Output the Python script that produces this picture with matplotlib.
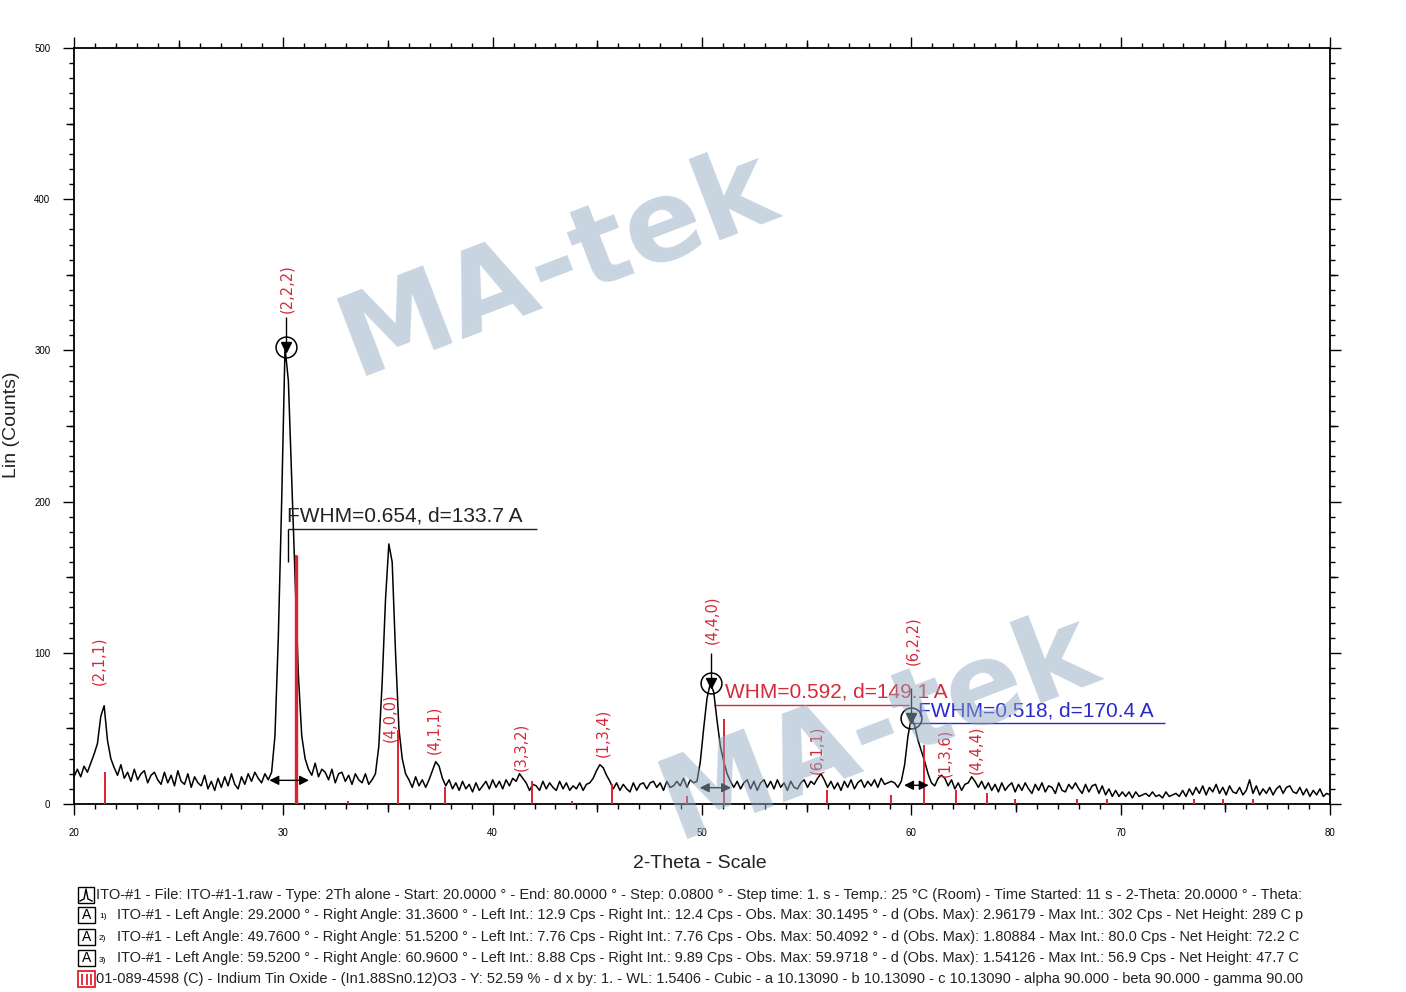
import numpy as np
import matplotlib
matplotlib.use('Agg')
import matplotlib.pyplot as plt
from matplotlib.markers import TICKDOWN, TICKUP, TICKLEFT, TICKRIGHT
from matplotlib.patches import Rectangle

plt.rcParams['font.family'] = ['Liberation Sans', 'DejaVu Sans']

# scan: start 20 deg, every second point of the 0.08 deg step scan
start_angle = 20.0
step = 0.16

counts = [
    # 20.00 - 23.84
    18, 23, 18, 25, 21, 27, 33, 40, 58, 65, 42, 30, 24, 19, 26, 17, 21, 15, 23, 16, 20, 22, 14, 19, 21,
    # 24.00 - 27.84
    16, 13, 21, 14, 19, 12, 22, 15, 13, 20, 11, 18, 14, 12, 19, 10, 15, 9, 17, 11, 18, 12, 20, 13, 10,
    # 28.00 - 31.84
    18, 13, 20, 15, 21, 17, 14, 20, 16, 21, 45, 110, 200, 302, 280, 215, 150, 85, 45, 30, 23, 19, 27, 18, 23,
    # 32.00 - 35.84
    21, 16, 23, 14, 20, 21, 15, 19, 13, 20, 16, 14, 20, 13, 16, 20, 38, 80, 135, 172, 160, 100, 50, 30, 20,
    # 36.00 - 39.84
    16, 11, 18, 12, 16, 11, 16, 22, 28, 25, 17, 12, 16, 10, 14, 9, 15, 10, 13, 8, 14, 9, 12, 15, 10,
    # 40.00 - 43.84
    16, 11, 15, 10, 16, 12, 17, 15, 20, 17, 14, 9, 13, 12, 9, 15, 10, 14, 11, 9, 15, 10, 14, 9, 12,
    # 44.00 - 47.84
    10, 14, 9, 13, 14, 17, 22, 26, 24, 19, 15, 10, 14, 9, 13, 10, 8, 14, 9, 13, 14, 10, 14, 15, 11,
    # 48.00 - 51.84
    14, 9, 15, 11, 12, 15, 12, 17, 11, 16, 14, 15, 28, 50, 70, 80, 74, 55, 38, 28, 20, 15, 11, 15, 10,
    # 52.00 - 55.84
    14, 16, 10, 15, 9, 14, 16, 11, 15, 10, 16, 11, 14, 9, 15, 11, 10, 14, 16, 11, 15, 13, 17, 20, 16,
    # 56.00 - 59.84
    11, 15, 10, 14, 9, 15, 11, 16, 10, 14, 16, 11, 15, 12, 16, 11, 17, 13, 14, 15, 14, 11, 15, 26, 45,
    # 60.00 - 63.84
    57, 52, 42, 35, 28, 20, 14, 12, 17, 19, 17, 12, 16, 10, 14, 9, 13, 14, 18, 15, 11, 15, 10, 14, 9,
    # 64.00 - 67.84
    13, 8, 14, 9, 12, 14, 8, 13, 9, 14, 10, 7, 13, 9, 14, 8, 12, 11, 7, 14, 9, 8, 13, 10, 14,
    # 68.00 - 71.84
    10, 7, 13, 8, 12, 13, 7, 12, 6, 10, 5, 9, 5, 8, 5, 8, 4, 8, 5, 6, 7, 5, 8, 5, 6,
    # 72.00 - 75.84
    4, 8, 5, 6, 7, 5, 9, 5, 10, 6, 11, 7, 12, 6, 11, 8, 13, 7, 11, 6, 12, 8, 7, 11, 6,
    # 76.00 - 80.00
    9, 16, 7, 12, 6, 10, 7, 11, 6, 10, 12, 7, 11, 12, 8, 7, 11, 6, 10, 5, 9, 6, 10, 5, 7, 6,
]
two_theta = start_angle + step * np.arange(len(counts))

# reference pattern 01-089-4598 (Indium Tin Oxide) sticks
ref_pos = [21.50, 30.62, 33.10, 35.50, 37.72, 41.86, 43.80, 45.70, 49.30, 51.04, 55.95,
           59.05, 60.62, 62.15, 63.62, 64.96, 67.90, 69.35, 73.50, 74.90, 76.30]
ref_int = [21, 165, 2, 49, 11, 15, 2, 13, 5, 56, 9, 6, 39, 9, 7, 3, 3, 3, 3, 3, 3]

# hkl labels and where they sit
hkl_labels = ['(2,1,1)', '(2,2,2)', '(4,0,0)', '(4,1,1)', '(3,3,2)', '(1,3,4)',
              '(4,4,0)', '(6,1,1)', '(6,2,2)', '(1,3,6)', '(4,4,4)']
hkl_x = [21.2, 30.18, 35.1, 37.2, 41.36, 45.27, 50.48, 55.5, 60.09, 61.6, 63.1]
hkl_y = [95, 341, 57, 49, 38, 47, 122, 36, 108, 34, 36]

# fitted peaks
peak_left = [29.20, 49.76, 59.52]
peak_right = [31.36, 51.52, 60.96]
left_int = [12.9, 7.76, 8.88]
right_int = [12.4, 7.76, 9.89]
obs_max = [30.1495, 50.4092, 59.9718]
max_int = [302, 80.0, 56.9]
fwhm_text = ['FWHM=0.654, d=133.7 A', 'WHM=0.592, d=149.1 A', 'FWHM=0.518, d=170.4 A']

W, H = 1406, 992
fig = plt.figure(figsize=(W / 100, H / 100), dpi=100)
ax = fig.add_axes([74 / W, 1 - 804 / H, 1256 / W, 756 / H])

ax.plot(two_theta, counts, color='black', lw=1.1, zorder=3)

red = '#e0202e'
ax.vlines(ref_pos, 0, ref_int, color=red, lw=1.4, zorder=4)
ax.vlines([30.62], 0, [165], color=red, lw=2.4, zorder=4)

for lab, x, y in zip(hkl_labels, hkl_x, hkl_y):
    ax.text(x, y, lab, rotation=90, color='#d42a3a', fontsize=10.5,
            ha='center', va='center', family='DejaVu Sans')

# peak markers
for i in range(3):
    base = (left_int[i] + right_int[i]) / 2 + 3
    ax.annotate('', xy=(peak_left[i], base), xytext=(peak_right[i], base),
                arrowprops=dict(arrowstyle='<|-|>', color='black', lw=1.0,
                                mutation_scale=14), zorder=5)
    ax.plot(obs_max[i], max_int[i], 'o', mfc='none', mec='black', ms=15, mew=1.1, zorder=5)
    ax.plot(obs_max[i], max_int[i], 'v', color='black', ms=7, zorder=5)
    ax.vlines(obs_max[i], max_int[i], max_int[i] + 20, color='black', lw=1.0, zorder=5)

# FWHM labels
ax.text(30.18, 184, fwhm_text[0], color='#222222', fontsize=15, ha='left', va='bottom')
ax.hlines(182, 30.2, 42.12, color='#222222', lw=1.0)
ax.vlines(30.2, 160, 182, color='black', lw=1.0)
ax.text(51.1, 68, fwhm_text[1], color='#d42a3a', fontsize=15, ha='left', va='bottom')
ax.hlines(65.5, 50.58, 59.9, color='#d42a3a', lw=1.0)
ax.text(60.33, 55.5, fwhm_text[2], color='#2a2acc', fontsize=15, ha='left', va='bottom')
ax.hlines(53.6, 59.97, 72.13, color='#2a2acc', lw=1.0)

ax.set_xlim(20, 80)
ax.set_ylim(0, 500)
ax.set_xticks(np.arange(20, 81, 10))
ax.set_xticks(np.arange(20, 81, 1), minor=True)
ax.set_yticks(np.arange(0, 501, 100))
ax.set_yticks(np.arange(0, 501, 10), minor=True)
ax.tick_params(which='both', direction='out', top=True, right=True, width=1.0,
               labelsize=7, pad=9)
ax.tick_params(which='major', length=8)
ax.tick_params(which='minor', length=3.5)
for s in ax.spines.values():
    s.set_linewidth(1.3)

# medium ticks
mid_x = np.arange(25, 80, 10)
mid_y = np.arange(50, 500, 100)
xt = ax.get_xaxis_transform()
yt = ax.get_yaxis_transform()
kw = dict(linestyle='', color='black', ms=5.5, mew=1.0, clip_on=False)
ax.plot(mid_x, [0] * len(mid_x), marker=TICKDOWN, transform=xt, **kw)
ax.plot(mid_x, [1] * len(mid_x), marker=TICKUP, transform=xt, **kw)
ax.plot([0] * len(mid_y), mid_y, marker=TICKLEFT, transform=yt, **kw)
ax.plot([1] * len(mid_y), mid_y, marker=TICKRIGHT, transform=yt, **kw)

# overlay in pixel coordinates
ov = fig.add_axes([0, 0, 1, 1])
ov.set_xlim(0, W)
ov.set_ylim(H, 0)
ov.axis('off')

ov.text(700, 864, '2-Theta - Scale', fontsize=14, ha='center', va='center', color='#222222')
ov.text(12, 425, 'Lin (Counts)', fontsize=14, ha='center', va='center', rotation=90, color='#222222')

# watermark
for cx, cy in [(557, 265), (878, 728)]:
    ov.text(cx, cy, 'MA-tek', fontsize=82, fontweight='bold', color='#93aac4', alpha=0.5,
            rotation=21, ha='center', va='center', family='DejaVu Sans', zorder=10)

legend_lines = [
    'ITO-#1 - File: ITO-#1-1.raw - Type: 2Th alone - Start: 20.0000 ° - End: 80.0000 ° - Step: 0.0800 ° - Step time: 1. s - Temp.: 25 °C (Room) - Time Started: 11 s - 2-Theta: 20.0000 ° - Theta:',
    'ITO-#1 - Left Angle: 29.2000 ° - Right Angle: 31.3600 ° - Left Int.: 12.9 Cps - Right Int.: 12.4 Cps - Obs. Max: 30.1495 ° - d (Obs. Max): 2.96179 - Max Int.: 302 Cps - Net Height: 289 C p',
    'ITO-#1 - Left Angle: 49.7600 ° - Right Angle: 51.5200 ° - Left Int.: 7.76 Cps - Right Int.: 7.76 Cps - Obs. Max: 50.4092 ° - d (Obs. Max): 1.80884 - Max Int.: 80.0 Cps - Net Height: 72.2 C',
    'ITO-#1 - Left Angle: 59.5200 ° - Right Angle: 60.9600 ° - Left Int.: 8.88 Cps - Right Int.: 9.89 Cps - Obs. Max: 59.9718 ° - d (Obs. Max): 1.54126 - Max Int.: 56.9 Cps - Net Height: 47.7 C',
    '01-089-4598 (C) - Indium Tin Oxide - (In1.88Sn0.12)O3 - Y: 52.59 % - d x by: 1. - WL: 1.5406 - Cubic - a 10.13090 - b 10.13090 - c 10.13090 - alpha 90.000 - beta 90.000 - gamma 90.00',
]
line_x0 = [96, 117, 117, 117, 96]
line_x1 = [1300, 1307, 1303, 1303, 1303]
line_y = [895, 915, 937, 958, 979]

fig.canvas.draw()
r = fig.canvas.get_renderer()
for txt, x0, x1, y in zip(legend_lines, line_x0, line_x1, line_y):
    t = ov.text(x0, y, txt, fontsize=9, ha='left', va='center', color='#222222')
    for _ in range(3):
        w = t.get_window_extent(renderer=r).width
        t.set_fontsize(t.get_fontsize() * (x1 - x0) / w)

# legend icons
ov.add_patch(Rectangle((78, 887), 16, 16, fill=False, ec='black', lw=1.0))
ov.plot([80, 84, 86, 88, 92], [901, 899, 889, 899, 901], color='black', lw=1.0)
for k, y in enumerate(line_y[1:4]):
    ov.add_patch(Rectangle((78, y - 8), 17, 16, fill=False, ec='black', lw=1.0))
    ov.text(86.5, y, 'A', fontsize=10, ha='center', va='center')
    ov.text(99, y + 2, '%d)' % (k + 1), fontsize=6, ha='left', va='center')
ov.add_patch(Rectangle((78, 971), 17, 16, fill=False, ec=red, lw=1.3))
ov.vlines([82, 86.5, 91], 974, 985, color=red, lw=1.3)

fig.savefig('out.png', dpi=100)
